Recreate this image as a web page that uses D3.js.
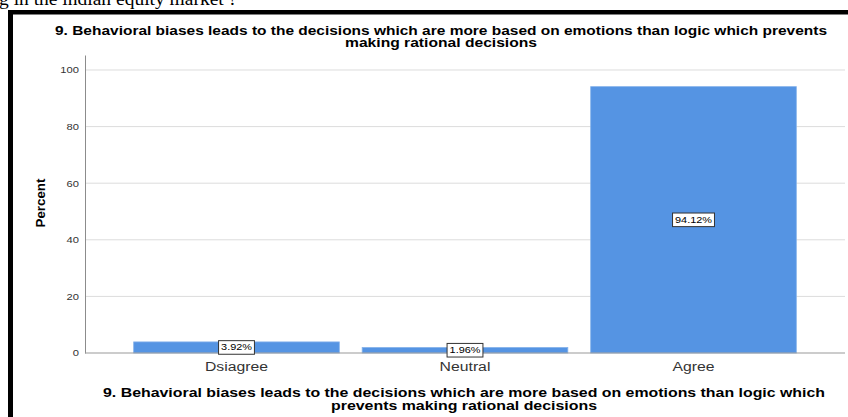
<!DOCTYPE html>
<html>
<head>
<meta charset="utf-8">
<script src="https://cdn.jsdelivr.net/npm/d3@7"></script>
<style>
  html, body { margin: 0; padding: 0; background: #fff; }
  svg { display: block; }
</style>
</head>
<body>
<svg id="chart" width="848" height="417"></svg>
<script>
// Survey item 9: share of responses per answer category
const categories = ["Dsiagree", "Neutral", "Agree"];
const percents = [3.92, 1.96, 94.12];
const valueLabels = ["3.92%", "1.96%", "94.12%"];
const yTicks = [0, 20, 40, 60, 80, 100];

const titleLines = [
  "9.  Behavioral biases leads to the decisions which are more based on emotions than logic which prevents",
  "making rational decisions"
];
const xTitleLines = [
  "9.  Behavioral biases leads to the decisions which are more based on emotions than logic which",
  "prevents making rational decisions"
];
const headerText = "g in  the indian equity market ?";

const svg = d3.select("#chart");
const W = 848, H = 417;
const plot = { left: 85, right: 845, top: 55, bottom: 353 };
const SANS = "Liberation Sans, Arial, sans-serif";
const WIDE = 1.27; // horizontal stretch of the exported graphic's lettering

// widen a text selection horizontally while keeping its anchor
function widen(sel, k) {
  sel.each(function () {
    const len = this.getComputedTextLength();
    d3.select(this).attr("textLength", len * k).attr("lengthAdjust", "spacingAndGlyphs");
  });
  return sel;
}

// page text running above the chart frame
svg.append("text")
  .attr("x", -1).attr("y", 5)
  .attr("font-family", "Liberation Serif, Times New Roman, serif")
  .attr("font-size", 19.5)
  .attr("fill", "#000")
  .text(headerText);

// thick frame on top and left
svg.append("rect").attr("x", 8).attr("y", 10).attr("width", W - 8).attr("height", 4.5).attr("fill", "#000");
svg.append("rect").attr("x", 8).attr("y", 10).attr("width", 5).attr("height", H - 10).attr("fill", "#000");

const x = d3.scaleBand()
  .domain(categories)
  .range([plot.left, plot.right])
  .paddingInner(0.1)
  .paddingOuter(0.213);

const y = d3.scaleLinear()
  .domain([0, 105.3])
  .range([plot.bottom, plot.top]);

// gridlines
svg.append("g")
  .selectAll("line")
  .data(yTicks.filter(d => d > 0))
  .join("line")
  .attr("x1", plot.left).attr("x2", plot.right)
  .attr("y1", d => y(d)).attr("y2", d => y(d))
  .attr("stroke", "#dcdcdc").attr("stroke-width", 1);

// y axis
const yAxis = d3.axisLeft(y).tickValues(yTicks).tickSize(0).tickPadding(6).tickFormat(d3.format("d"));
const gy = svg.append("g").attr("transform", `translate(${plot.left},0)`).call(yAxis);
gy.select(".domain").attr("stroke", "#8c8c8c");
widen(gy.selectAll(".tick text")
  .attr("font-family", SANS)
  .attr("font-size", 8.8)
  .attr("fill", "#333"), WIDE);

// bars
svg.append("g")
  .selectAll("rect")
  .data(categories.map((c, i) => ({ c, v: percents[i] })))
  .join("rect")
  .attr("x", d => x(d.c))
  .attr("width", x.bandwidth())
  .attr("y", d => y(d.v))
  .attr("height", d => y(0) - y(d.v))
  .attr("fill", "#5594e3")
  .attr("stroke", "#86b2ea")
  .attr("stroke-width", 0.8);

// x axis baseline
svg.append("line")
  .attr("x1", plot.left).attr("x2", plot.right)
  .attr("y1", y(0)).attr("y2", y(0))
  .attr("stroke", "#9a9a9a").attr("stroke-width", 1.2);

// value boxes at bar middles
const lbl = svg.append("g")
  .selectAll("g")
  .data(categories.map((c, i) => ({ c, v: percents[i], t: valueLabels[i] })))
  .join("g")
  .attr("transform", d => `translate(${x(d.c) + x.bandwidth() / 2},${(y(d.v) + y(0)) / 2})`);
widen(lbl.append("text")
  .attr("text-anchor", "middle")
  .attr("dy", "0.36em")
  .attr("font-family", SANS)
  .attr("font-size", 8.4)
  .attr("fill", "#000")
  .text(d => d.t), 1.3);
lbl.each(function () {
  const g = d3.select(this);
  const len = +g.select("text").attr("textLength");
  g.insert("rect", "text")
    .attr("x", -len / 2 - 2.5).attr("y", -6.8)
    .attr("width", len + 5).attr("height", 13.6)
    .attr("fill", "#fff").attr("stroke", "#333").attr("stroke-width", 1);
});

// category labels
widen(svg.append("g")
  .selectAll("text")
  .data(categories)
  .join("text")
  .attr("x", d => x(d) + x.bandwidth() / 2)
  .attr("y", 371)
  .attr("text-anchor", "middle")
  .attr("font-family", SANS)
  .attr("font-size", 12.5)
  .attr("fill", "#333")
  .text(d => d), 1.26);

// y axis title
svg.append("text")
  .attr("transform", `translate(45,203) rotate(-90)`)
  .attr("text-anchor", "middle")
  .attr("font-family", SANS)
  .attr("font-size", 13.3)
  .attr("font-weight", "bold")
  .attr("fill", "#000")
  .text("Percent");

// chart title
const titleWidths = [772, 192];
svg.append("g")
  .selectAll("text")
  .data(titleLines)
  .join("text")
  .attr("x", 441)
  .attr("y", (d, i) => 35 + i * 12)
  .attr("text-anchor", "middle")
  .attr("font-family", SANS)
  .attr("font-size", 12.5)
  .attr("font-weight", "bold")
  .attr("fill", "#000")
  .attr("textLength", (d, i) => titleWidths[i])
  .attr("lengthAdjust", "spacingAndGlyphs")
  .text(d => d);

// x axis title
const xTitleWidths = [722, 266];
svg.append("g")
  .selectAll("text")
  .data(xTitleLines)
  .join("text")
  .attr("x", 464)
  .attr("y", (d, i) => 397 + i * 13)
  .attr("text-anchor", "middle")
  .attr("font-family", SANS)
  .attr("font-size", 13)
  .attr("font-weight", "bold")
  .attr("fill", "#000")
  .attr("textLength", (d, i) => xTitleWidths[i])
  .attr("lengthAdjust", "spacingAndGlyphs")
  .text(d => d);
</script>
</body>
</html>
